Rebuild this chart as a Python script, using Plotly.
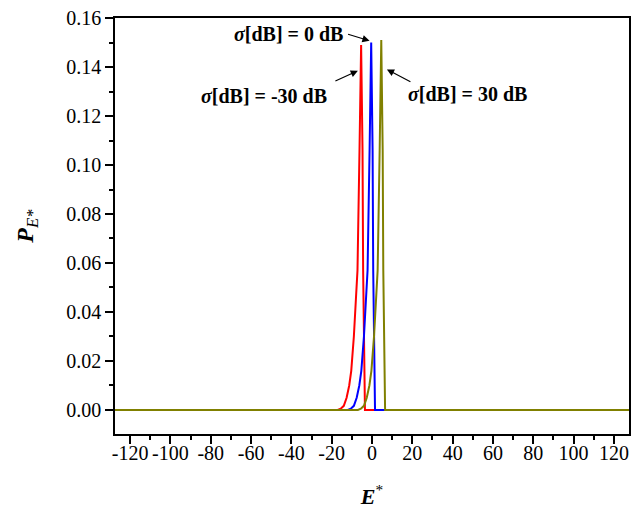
import plotly.graph_objects as go

# Data
x_red = [-130, -17, -15.5, -14, -12.6, -11.3, -10.3, -9.0, -8.0, -7.2, -6.2, -5.4, -4.7, -4.4, -3.5, 130]
y_red = [0, 0, 0.0005, 0.0017, 0.005, 0.010, 0.016, 0.030, 0.045, 0.057, 0.106, 0.149, 0.106, 0.057, 0, 0]

x_blue = [-130, -12, -10.5, -9, -7.6, -6.3, -5.3, -4.0, -3.0, -2.2, -1.2, -0.4, 0.3, 0.6, 1.5, 130]
y_blue = [0, 0, 0.0005, 0.0017, 0.005, 0.010, 0.016, 0.030, 0.045, 0.057, 0.106, 0.150, 0.106, 0.057, 0, 0]

x_olive = [-130, -7, -5.5, -4, -2.6, -1.3, -0.3, 1.0, 2.0, 2.8, 3.8, 4.6, 5.3, 5.6, 6.5, 130]
y_olive = [0, 0, 0.0005, 0.0017, 0.005, 0.010, 0.016, 0.030, 0.045, 0.057, 0.106, 0.151, 0.106, 0.057, 0, 0]

x_ticks = [-120, -100, -80, -60, -40, -20, 0, 20, 40, 60, 80, 100, 120]
y_ticks = [0.00, 0.02, 0.04, 0.06, 0.08, 0.10, 0.12, 0.14, 0.16]

FONT = "Liberation Serif"

fig = go.Figure()
for xs, ys, col in [(x_red, y_red, "#FF0000"), (x_blue, y_blue, "#0000FF"), (x_olive, y_olive, "#808000")]:
    fig.add_trace(go.Scatter(x=xs, y=ys, mode="lines", line=dict(color=col, width=2),
                             showlegend=False))

axis_common = dict(
    showgrid=False, zeroline=False, showline=True, linecolor="black", linewidth=1.5,
    mirror=True, ticks="outside", tickcolor="black", tickwidth=1.5, ticklen=8,
    tickfont=dict(family=FONT, size=20, color="black"), automargin=False,
    ticklabeloverflow="allow",
)

fig.update_xaxes(
    range=[-127.5, 127.5], tickvals=x_ticks, ticktext=[str(v) for v in x_ticks],
    minor=dict(dtick=10, tick0=0, ticks="outside", ticklen=4, tickcolor="black", tickwidth=1.5),
    ticklabelstandoff=-8,
    title=dict(text="<b><i>E</i></b><sup>*</sup>", font=dict(family=FONT, size=22, color="black"), standoff=30),
    **axis_common,
)
fig.update_yaxes(
    range=[-0.0098, 0.16], tickvals=y_ticks, ticktext=[f"{v:.2f}" for v in y_ticks],
    minor=dict(dtick=0.01, tick0=0, ticks="outside", ticklen=4, tickcolor="black", tickwidth=1.5),
    title=dict(text="<b><i>P</i></b><sub><i>E*</i></sub>", font=dict(family=FONT, size=24, color="black"), standoff=26),
    **axis_common,
)

ann_font = dict(family=FONT, size=20, color="black")
# arrows
for tx, ty, ax, ay in [(-1.2, 0.1507, -23, -7), (-7.0, 0.1385, -24, 11), (7.4, 0.139, 25, 13)]:
    fig.add_annotation(x=tx, y=ty, xref="x", yref="y", ax=ax, ay=ay, text="",
                       showarrow=True, arrowhead=2, arrowsize=1.2, arrowwidth=1.2, arrowcolor="black")
# labels
for tx, ty, txt in [(-41.6, 0.1535, "<b><i>σ</i>[dB] = 0 dB</b>"),
                    (-53.7, 0.128, "<b><i>σ</i>[dB] = -30 dB</b>"),
                    (47.2, 0.129, "<b><i>σ</i>[dB] = 30 dB</b>")]:
    fig.add_annotation(x=tx, y=ty, xref="x", yref="y", text=txt, showarrow=False, font=ann_font)

# page body has an 8px margin, so the figure is made 8px smaller and margins shifted
fig.update_layout(
    width=635, height=501,
    margin=dict(l=107, r=14, t=10, b=75),
    paper_bgcolor="white", plot_bgcolor="white",
    font=dict(family=FONT, color="black"),
)

fig.write_html("out.html")
